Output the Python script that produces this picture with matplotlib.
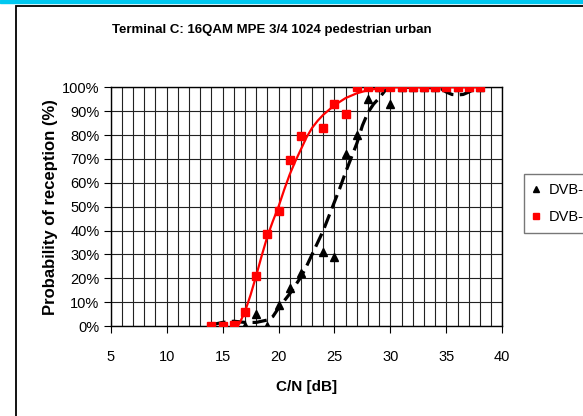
import numpy as np
import matplotlib.pyplot as plt
from matplotlib.patches import Rectangle
from matplotlib.ticker import MultipleLocator, FuncFormatter

plt.rcParams['font.family'] = ['Liberation Sans', 'DejaVu Sans']

# measured points (C/N in dB, probability in %)
cn_tri = [17, 18, 19, 20, 21, 22, 24, 25, 26, 27, 28, 29, 30, 31, 32, 33, 34, 35, 36, 37, 38]
p_tri = [0, 5, 0, 9, 16, 22, 31, 29, 72, 80, 95, 100, 93, 100, 100, 100, 100, 100, 100, 100, 100]

cn_sq = [14, 15, 16, 17, 18, 19, 20, 21, 22, 24, 25, 26, 27, 28, 29, 30, 31, 32, 33, 34, 35, 36, 37, 38]
p_sq = [0, 0, 0.5, 6, 21, 38.5, 48, 69.5, 79.5, 83, 93, 89, 100, 100, 100, 100, 100, 100, 100, 100, 100, 100, 100, 100]

# trend lines
trend_tri_x = [14, 15, 16, 17, 18, 19, 19.5, 20, 20.5, 21, 21.5, 22, 22.5, 23, 23.5, 24, 24.5, 25, 25.5, 26,
               26.5, 27, 27.5, 28, 28.5, 29, 29.5, 30, 33, 34.5, 35, 35.5, 36, 36.5, 37, 37.5, 38]
trend_tri_y = [0.5, 1.5, 2, 1.5, 1.5, 2.5, 4, 7.5, 10.5, 13.5, 17, 20.5, 25, 30, 35, 40, 46, 52, 58, 64.5,
               70.5, 76.5, 84, 89.5, 93, 95.5, 98.5, 100, 100, 99.5, 98, 97, 96.8, 97, 98, 99.3, 100]

trend_sq_x = [16.3, 16.5, 17, 17.5, 18, 18.5, 19, 19.5, 20, 20.5, 21, 21.5, 22, 22.5, 23, 23.5, 24, 25, 26,
              27, 28, 29, 30, 38]
trend_sq_y = [0, 1, 6, 13, 21, 29.5, 37.5, 44, 50, 57, 63.5, 69, 74, 79, 83, 86, 88.5, 92.5, 95.5,
              97.5, 98.8, 99.6, 100, 100]

fig = plt.figure(figsize=(5.83, 4.16), dpi=100)
W, H = 583, 416

# outer frame and top band
fig.patches.append(Rectangle((0, 1 - 2.5 / H), 1, 2.5 / H, transform=fig.transFigure,
                             color='#00c8f0', zorder=0))
fig.patches.append(Rectangle((16 / W, -0.1), 2, 1.1 - 6 / H, transform=fig.transFigure,
                             fill=False, edgecolor='black', linewidth=1.3, zorder=1))

ax = fig.add_axes([110.7 / W, 1 - 326 / H, (502.3 - 110.7) / W, (326 - 87.3) / H])

ax.plot(trend_tri_x, trend_tri_y, color='black', lw=2.3, dashes=(4.5, 2), zorder=3)
ax.plot(trend_sq_x, trend_sq_y, color='red', lw=1.6, zorder=3)
ax.plot(cn_tri, p_tri, linestyle='none', marker='^', color='black', markersize=6,
        label='DVB-H', zorder=4)
ax.plot(cn_sq, p_sq, linestyle='none', marker='s', color='red', markersize=6,
        label='DVB-SH', zorder=5)

ax.set_xlim(5, 40)
ax.set_ylim(0, 100)
ax.xaxis.set_major_locator(MultipleLocator(5))
ax.xaxis.set_minor_locator(MultipleLocator(1))
ax.yaxis.set_major_locator(MultipleLocator(10))
ax.yaxis.set_major_formatter(FuncFormatter(lambda v, p: '%d%%' % v))
ax.grid(True, which='both', axis='x', color='#222222', lw=0.8)
ax.grid(True, which='major', axis='y', color='#222222', lw=0.8)
ax.set_axisbelow(True)
ax.tick_params(axis='both', which='major', direction='out', length=5, width=0.8,
               labelsize=10.5, pad=3)
ax.tick_params(axis='x', which='major', pad=12)
ax.tick_params(axis='x', which='minor', length=0)
for s in ax.spines.values():
    s.set_linewidth(1.0)

ax.set_xlabel('C/N [dB]', fontsize=11, fontweight='bold', labelpad=12)
ax.set_ylabel('Probability of reception (%)', fontsize=12, fontweight='bold', labelpad=3)

fig.text(272 / W, 1 - 30 / H, 'Terminal C: 16QAM MPE 3/4 1024 pedestrian urban',
         fontsize=9.5, fontweight='bold', ha='center', va='center')

leg = ax.legend(loc='upper left', bbox_to_anchor=(524 / W, 1 - 174 / H),
                bbox_transform=fig.transFigure, fancybox=False, edgecolor='#555555',
                fontsize=10.5, handlelength=0.5, handletextpad=0.6, borderpad=0.6,
                borderaxespad=0, labelspacing=0.9, markerscale=0.8)
leg.get_frame().set_linewidth(1.0)

fig.savefig('out.png', dpi=100)
